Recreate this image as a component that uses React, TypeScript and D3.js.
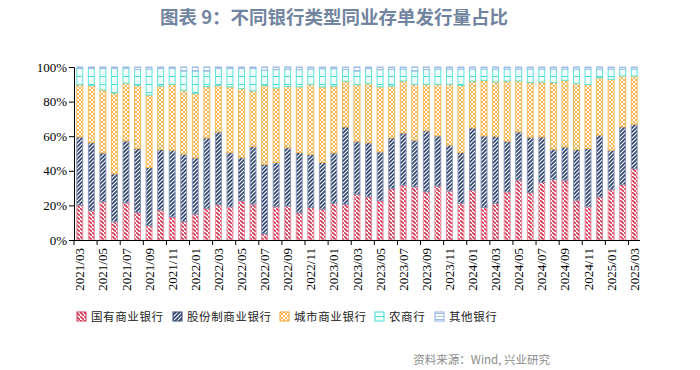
import React, { useEffect, useRef } from 'react';
import * as d3 from 'd3';

const months = [
  '2021/03', '2021/04', '2021/05', '2021/06', '2021/07', '2021/08', '2021/09', '2021/10', '2021/11', '2021/12',
  '2022/01', '2022/02', '2022/03', '2022/04', '2022/05', '2022/06', '2022/07', '2022/08', '2022/09', '2022/10',
  '2022/11', '2022/12', '2023/01', '2023/02', '2023/03', '2023/04', '2023/05', '2023/06', '2023/07', '2023/08',
  '2023/09', '2023/10', '2023/11', '2023/12', '2024/01', '2024/02', '2024/03', '2024/04', '2024/05', '2024/06',
  '2024/07', '2024/08', '2024/09', '2024/10', '2024/11', '2024/12', '2025/01', '2025/02', '2025/03',
];

// 国有商业银行
const stateBank = [
  20.2, 16.9, 22.1, 10.6, 21.5, 16.0, 8.3, 17.3, 13.3, 10.6, 15.0, 18.3, 20.6, 19.2, 22.7, 20.8, 3.5,
  19.2, 19.6, 16.0, 18.8, 17.9, 21.2, 20.6, 26.3, 25.0, 22.7, 29.8, 31.7, 30.8, 27.9, 31.2, 28.3, 21.2,
  28.8, 18.8, 21.2, 27.9, 34.6, 27.5, 33.3, 35.0, 34.6, 23.1, 19.2, 25.0, 29.2, 32.1, 41.3,
];
// 股份制商业银行
const jointStock = [
  39.4, 39.4, 28.3, 27.7, 35.8, 36.9, 33.6, 35.0, 38.6, 39.0, 32.5, 40.7, 41.9, 31.4, 25.0, 33.2, 40.2,
  25.6, 33.7, 34.6, 30.6, 26.9, 29.2, 44.8, 30.8, 31.3, 28.3, 29.2, 30.2, 26.9, 35.2, 29.0, 26.5, 29.4,
  36.0, 41.4, 38.8, 29.2, 27.9, 31.9, 26.3, 17.5, 19.2, 29.2, 33.7, 35.6, 22.7, 33.3, 25.6,
];
// 城市商业银行
const cityBank = [
  30.2, 33.1, 36.3, 46.7, 33.3, 36.5, 41.9, 36.7, 38.1, 36.9, 37.3, 29.7, 26.9, 37.9, 39.8, 32.2, 45.7,
  43.1, 35.5, 37.9, 40.6, 43.7, 38.6, 26.3, 32.7, 34.1, 37.5, 30.0, 30.0, 32.3, 26.9, 29.8, 35.2, 38.8,
  26.9, 32.1, 31.3, 34.8, 29.4, 31.6, 31.7, 38.5, 38.5, 38.1, 36.9, 33.2, 41.0, 29.4, 27.9,
];
// 农商行
const ruralBank = [
  9.4, 9.8, 12.5, 14.2, 8.7, 9.1, 15.0, 10.2, 9.2, 11.2, 12.9, 9.0, 9.8, 10.7, 11.7, 13.0, 8.8,
  10.6, 10.0, 10.0, 8.8, 10.5, 10.0, 6.8, 7.9, 8.8, 10.0, 9.7, 6.9, 7.7, 8.5, 8.8, 8.8, 9.4,
  7.1, 6.5, 7.5, 6.9, 6.9, 7.8, 7.5, 7.8, 6.5, 8.4, 9.0, 5.0, 5.9, 3.9, 4.0,
];
// 其他银行
const otherBank = [
  0.8, 0.8, 0.8, 0.8, 0.7, 1.5, 1.2, 0.8, 0.8, 2.3, 2.3, 2.3, 0.8, 0.8, 0.8, 0.8, 1.8,
  1.5, 1.2, 1.5, 1.2, 1.0, 1.0, 1.5, 2.3, 0.8, 1.5, 1.3, 1.2, 2.3, 1.5, 1.2, 1.2, 1.2,
  1.2, 1.2, 1.2, 1.2, 1.2, 1.2, 1.2, 1.2, 1.2, 1.2, 1.2, 1.2, 1.2, 1.2, 1.2,
];

const seriesNames = ['国有商业银行', '股份制商业银行', '城市商业银行', '农商行', '其他银行'];
const yTicks = [0, 20, 40, 60, 80, 100];

const keys = ['state', 'joint', 'city', 'rural', 'other'];
const colors = ['#d23a55', '#2e4270', '#f5a32a', '#44ddd2', '#8fb0e0'];
const borders = ['#e88a9c', '#8595b4', '#f7b955', '#5fe3da', '#9dbbe6'];

const App = () => {
  const ref = useRef(null);

  useEffect(() => {
    const svg = d3.select(ref.current);
    svg.selectAll('*').remove();

    const rows = months.map((m, i) => ({
      month: m,
      state: stateBank[i],
      joint: jointStock[i],
      city: cityBank[i],
      rural: ruralBank[i],
      other: otherBank[i],
    }));
    const stacked = d3.stack().keys(keys)(rows);

    const x = d3.scaleBand().domain(months).range([74, 640]).paddingInner(0.4).paddingOuter(0.2);
    const y = d3.scaleLinear().domain([0, 100]).range([240, 67]);

    // patterns
    const defs = svg.append('defs');
    const p0 = defs.append('pattern').attr('id', 'p-state').attr('patternUnits', 'userSpaceOnUse')
      .attr('width', 4).attr('height', 4);
    p0.append('rect').attr('width', 4).attr('height', 4).attr('fill', '#fff');
    p0.append('path').attr('d', 'M-1,-1 l2,2 M0,0 l4,4 M3,3 l2,2')
      .attr('stroke', colors[0]).attr('stroke-width', 1.6);

    const p1 = defs.append('pattern').attr('id', 'p-joint').attr('patternUnits', 'userSpaceOnUse')
      .attr('width', 4).attr('height', 4);
    p1.append('rect').attr('width', 4).attr('height', 4).attr('fill', '#fff');
    p1.append('path').attr('d', 'M-1,1 l2,-2 M0,4 l4,-4 M3,5 l2,-2')
      .attr('stroke', colors[1]).attr('stroke-width', 1.6);

    const p2 = defs.append('pattern').attr('id', 'p-city').attr('patternUnits', 'userSpaceOnUse')
      .attr('width', 4).attr('height', 4);
    p2.append('rect').attr('width', 4).attr('height', 4).attr('fill', '#fff');
    p2.append('path').attr('d', 'M0,0 L4,4 M0,4 L4,0')
      .attr('stroke', colors[2]).attr('stroke-width', 0.8);

    const p3 = defs.append('pattern').attr('id', 'p-rural').attr('patternUnits', 'userSpaceOnUse')
      .attr('width', 8).attr('height', 8);
    p3.append('rect').attr('width', 8).attr('height', 8).attr('fill', '#f3fdfc');
    p3.append('line').attr('x1', 0).attr('x2', 8).attr('y1', 4.5).attr('y2', 4.5)
      .attr('stroke', colors[3]).attr('stroke-width', 1);

    const p4 = defs.append('pattern').attr('id', 'p-other').attr('patternUnits', 'userSpaceOnUse')
      .attr('width', 3).attr('height', 3);
    p4.append('rect').attr('width', 3).attr('height', 3).attr('fill', '#fff');
    p4.append('line').attr('x1', 0).attr('x2', 3).attr('y1', 1.5).attr('y2', 1.5)
      .attr('stroke', colors[4]).attr('stroke-width', 0.8);

    const patternIds = ['p-state', 'p-joint', 'p-city', 'p-rural', 'p-other'];

    // title
    svg.append('text')
      .attr('x', 160).attr('y', 24)
      .attr('font-family', '"Noto Sans CJK SC", "Noto Sans", sans-serif')
      .attr('font-size', 18.5).attr('font-weight', 'bold')
      .attr('fill', '#7184a0')
      .text('图表 9：不同银行类型同业存单发行量占比');

    // bars
    stacked.forEach((s, k) => {
      svg.append('g')
        .selectAll('rect')
        .data(s)
        .enter()
        .append('rect')
        .attr('x', (d) => x(d.data.month) + 0.5)
        .attr('y', (d) => y(d[1]))
        .attr('width', x.bandwidth() - 1)
        .attr('height', (d) => Math.max(0, y(d[0]) - y(d[1])))
        .attr('fill', `url(#${patternIds[k]})`)
        .attr('stroke', borders[k])
        .attr('stroke-width', 1);
    });

    // y axis
    const yAxis = d3.axisLeft(y).tickValues(yTicks).tickFormat((d) => d + '%').tickSize(5).tickPadding(2);
    const gy = svg.append('g').attr('transform', 'translate(74,0)').call(yAxis);
    gy.select('.domain').attr('stroke', '#000');
    gy.selectAll('text')
      .attr('font-family', '"Liberation Serif", "Times New Roman", serif')
      .attr('font-size', 13).attr('fill', '#000');

    // x axis
    const step = x.step();
    const gx = svg.append('g');
    gx.append('line')
      .attr('x1', 74).attr('x2', 640).attr('y1', 240.5).attr('y2', 240.5)
      .attr('stroke', '#000');
    months.forEach((m, i) => {
      if (i % 2 !== 0) return;
      const left = x(m) - (step - x.bandwidth()) / 2;
      gx.append('line')
        .attr('x1', left).attr('x2', left).attr('y1', 240).attr('y2', 245)
        .attr('stroke', '#000');
      const cx = x(m) + x.bandwidth() / 2;
      gx.append('text')
        .attr('transform', `translate(${cx},248) rotate(-90)`)
        .attr('text-anchor', 'end')
        .attr('dy', '0.35em')
        .attr('font-family', '"Liberation Serif", "Times New Roman", serif')
        .attr('font-size', 13).attr('fill', '#000')
        .text(m);
    });

    // legend
    const legendX = [77, 173, 280, 375, 435];
    const lg = svg.append('g');
    seriesNames.forEach((name, k) => {
      lg.append('rect')
        .attr('x', legendX[k]).attr('y', 312)
        .attr('width', 9).attr('height', 9)
        .attr('fill', `url(#${patternIds[k]})`)
        .attr('stroke', colors[k]).attr('stroke-width', 1);
      lg.append('text')
        .attr('x', legendX[k] + 14).attr('y', 317)
        .attr('dy', '0.35em')
        .attr('font-family', '"Noto Sans CJK SC", sans-serif')
        .attr('font-size', 11.5).attr('letter-spacing', 0.6)
        .attr('fill', '#222')
        .text(name);
    });

    // source
    svg.append('text')
      .attr('x', 550).attr('y', 360)
      .attr('dy', '0.35em')
      .attr('text-anchor', 'end')
      .attr('font-family', '"Noto Sans CJK SC", "Noto Sans", sans-serif')
      .attr('font-size', 11.5).attr('fill', '#8a8a8a')
      .text('资料来源：Wind, 兴业研究');
  }, []);

  return (
    <svg
      ref={ref}
      width={700}
      height={370}
      style={{ position: 'absolute', left: 0, top: 0, background: '#fff' }}
    ></svg>
  );
};

export default App;
